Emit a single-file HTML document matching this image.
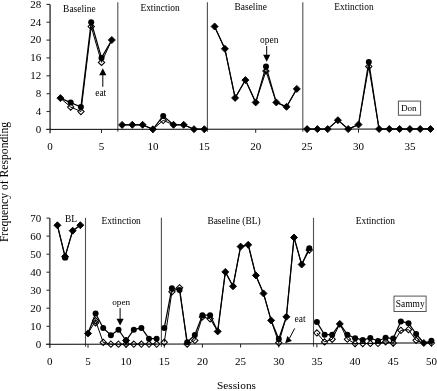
<!DOCTYPE html>
<html><head><meta charset="utf-8"><title>Frequency of Responding</title>
<style>
html,body{margin:0;padding:0;background:#fff;}
body{width:437px;height:391px;overflow:hidden;}
svg{display:block;filter:grayscale(1);font-family:"Liberation Serif",serif;fill:#000;}
</style></head>
<body>
<svg width="437" height="391" viewBox="0 0 437 391">
<rect x="0" y="0" width="437" height="391" fill="#fff"/>
<line x1="117.8" y1="2.3" x2="117.8" y2="131.8" stroke="#505050" stroke-width="1.10"/>
<line x1="207.4" y1="2.3" x2="207.4" y2="131.8" stroke="#505050" stroke-width="1.10"/>
<line x1="302.8" y1="2.3" x2="302.8" y2="131.8" stroke="#505050" stroke-width="1.10"/>
<line x1="85.5" y1="217.8" x2="85.5" y2="346.7" stroke="#505050" stroke-width="1.10"/>
<line x1="161.4" y1="217.8" x2="161.4" y2="346.7" stroke="#505050" stroke-width="1.10"/>
<line x1="313.5" y1="217.8" x2="313.5" y2="346.7" stroke="#505050" stroke-width="1.10"/>
<line x1="50.1" y1="4.4" x2="50.1" y2="133.2" stroke="#5a5a5a" stroke-width="1.70"/>
<line x1="46.3" y1="129.4" x2="432" y2="129.0" stroke="#000" stroke-width="1"/>
<line x1="46.5" y1="129.4" x2="50.1" y2="129.4" stroke="#333" stroke-width="1.10"/>
<line x1="46.5" y1="111.5" x2="50.1" y2="111.5" stroke="#333" stroke-width="1.10"/>
<line x1="46.5" y1="93.7" x2="50.1" y2="93.7" stroke="#333" stroke-width="1.10"/>
<line x1="46.5" y1="75.8" x2="50.1" y2="75.8" stroke="#333" stroke-width="1.10"/>
<line x1="46.5" y1="57.9" x2="50.1" y2="57.9" stroke="#333" stroke-width="1.10"/>
<line x1="46.5" y1="40.1" x2="50.1" y2="40.1" stroke="#333" stroke-width="1.10"/>
<line x1="46.5" y1="22.2" x2="50.1" y2="22.2" stroke="#333" stroke-width="1.10"/>
<line x1="46.5" y1="4.4" x2="50.1" y2="4.4" stroke="#333" stroke-width="1.10"/>
<line x1="101.5" y1="129.3" x2="101.5" y2="132.9" stroke="#222" stroke-width="1.00"/>
<line x1="152.9" y1="129.3" x2="152.9" y2="132.9" stroke="#222" stroke-width="1.00"/>
<line x1="204.3" y1="129.2" x2="204.3" y2="132.8" stroke="#222" stroke-width="1.00"/>
<line x1="255.7" y1="129.2" x2="255.7" y2="132.8" stroke="#222" stroke-width="1.00"/>
<line x1="307.1" y1="129.1" x2="307.1" y2="132.7" stroke="#222" stroke-width="1.00"/>
<line x1="358.5" y1="129.1" x2="358.5" y2="132.7" stroke="#222" stroke-width="1.00"/>
<line x1="409.9" y1="129.0" x2="409.9" y2="132.6" stroke="#222" stroke-width="1.00"/>
<line x1="49.8" y1="218.1" x2="49.8" y2="348.0" stroke="#5a5a5a" stroke-width="1.70"/>
<polyline points="46.10,344.30 240.00,343.95 350.00,343.70 400.00,343.00 433.00,343.00" fill="none" stroke="#000" stroke-width="1"/>
<line x1="46.5" y1="344.3" x2="49.8" y2="344.3" stroke="#333" stroke-width="1.10"/>
<line x1="46.5" y1="326.3" x2="49.8" y2="326.3" stroke="#333" stroke-width="1.10"/>
<line x1="46.5" y1="308.2" x2="49.8" y2="308.2" stroke="#333" stroke-width="1.10"/>
<line x1="46.5" y1="290.2" x2="49.8" y2="290.2" stroke="#333" stroke-width="1.10"/>
<line x1="46.5" y1="272.2" x2="49.8" y2="272.2" stroke="#333" stroke-width="1.10"/>
<line x1="46.5" y1="254.2" x2="49.8" y2="254.2" stroke="#333" stroke-width="1.10"/>
<line x1="46.5" y1="236.1" x2="49.8" y2="236.1" stroke="#333" stroke-width="1.10"/>
<line x1="46.5" y1="218.1" x2="49.8" y2="218.1" stroke="#333" stroke-width="1.10"/>
<line x1="88.0" y1="344.2" x2="88.0" y2="347.8" stroke="#222" stroke-width="1.00"/>
<line x1="126.1" y1="344.2" x2="126.1" y2="347.8" stroke="#222" stroke-width="1.00"/>
<line x1="164.3" y1="344.1" x2="164.3" y2="347.7" stroke="#222" stroke-width="1.00"/>
<line x1="202.4" y1="344.0" x2="202.4" y2="347.6" stroke="#222" stroke-width="1.00"/>
<line x1="240.6" y1="343.9" x2="240.6" y2="347.5" stroke="#222" stroke-width="1.00"/>
<line x1="278.8" y1="343.9" x2="278.8" y2="347.5" stroke="#222" stroke-width="1.00"/>
<line x1="316.9" y1="343.8" x2="316.9" y2="347.4" stroke="#222" stroke-width="1.00"/>
<line x1="355.1" y1="343.6" x2="355.1" y2="347.2" stroke="#222" stroke-width="1.00"/>
<line x1="393.2" y1="343.1" x2="393.2" y2="346.7" stroke="#222" stroke-width="1.00"/>
<line x1="431.4" y1="343.0" x2="431.4" y2="346.6" stroke="#222" stroke-width="1.00"/>
<polyline points="60.38,98.13 70.66,107.05 80.94,111.50 91.22,26.64 101.50,62.35 111.78,40.01" fill="none" stroke="#000" stroke-width="1.00" stroke-linejoin="round"/>
<polyline points="122.06,124.85 132.34,124.84 142.62,124.83 152.90,129.29 163.18,120.34 173.46,124.80 183.74,124.79 194.02,129.24 204.30,129.23" fill="none" stroke="#000" stroke-width="1.00" stroke-linejoin="round"/>
<polyline points="214.58,26.50 224.86,48.82 235.14,97.93 245.42,80.06 255.70,102.38 265.98,71.10 276.26,102.36 286.54,106.81 296.82,88.93" fill="none" stroke="#000" stroke-width="1.00" stroke-linejoin="round"/>
<polyline points="307.10,129.12 317.38,129.11 327.66,129.09 337.94,120.15 348.22,129.07 358.50,124.59 368.78,66.53 379.06,129.04 389.34,129.03 399.62,129.02 409.90,129.00 420.18,128.99 430.46,128.98" fill="none" stroke="#000" stroke-width="1.00" stroke-linejoin="round"/>
<path d="M70.7 103.9L73.8 107.0L70.7 110.2L67.5 107.0Z" fill="none" stroke="#000" stroke-width="1.05"/>
<path d="M80.9 108.4L84.1 111.5L80.9 114.7L77.8 111.5Z" fill="none" stroke="#000" stroke-width="1.05"/>
<path d="M91.2 23.5L94.4 26.6L91.2 29.8L88.1 26.6Z" fill="none" stroke="#000" stroke-width="1.05"/>
<path d="M101.5 59.2L104.7 62.4L101.5 65.5L98.3 62.4Z" fill="none" stroke="#000" stroke-width="1.05"/>
<path d="M163.2 117.2L166.3 120.3L163.2 123.5L160.0 120.3Z" fill="none" stroke="#000" stroke-width="1.05"/>
<path d="M266.0 68.0L269.1 71.1L266.0 74.3L262.8 71.1Z" fill="none" stroke="#000" stroke-width="1.05"/>
<path d="M368.8 63.4L371.9 66.5L368.8 69.7L365.6 66.5Z" fill="none" stroke="#000" stroke-width="1.05"/>
<polyline points="60.38,98.13 70.66,102.58 80.94,107.04 91.22,22.17 101.50,57.89 111.78,40.01" fill="none" stroke="#000" stroke-width="1.25" stroke-linejoin="round"/>
<polyline points="122.06,124.85 132.34,124.84 142.62,124.83 152.90,129.29 163.18,115.88 173.46,124.80 183.74,124.79 194.02,129.24 204.30,129.23" fill="none" stroke="#000" stroke-width="1.25" stroke-linejoin="round"/>
<polyline points="214.58,26.50 224.86,48.82 235.14,97.93 245.42,80.06 255.70,102.38 265.98,66.64 276.26,102.36 286.54,106.81 296.82,88.93" fill="none" stroke="#000" stroke-width="1.25" stroke-linejoin="round"/>
<polyline points="307.10,129.12 317.38,129.11 327.66,129.09 337.94,120.15 348.22,129.07 358.50,124.59 368.78,62.06 379.06,129.04 389.34,129.03 399.62,129.02 409.90,129.00 420.18,128.99 430.46,128.98" fill="none" stroke="#000" stroke-width="1.25" stroke-linejoin="round"/>
<path d="M60.4 94.6L63.9 98.1L60.4 101.6L56.9 98.1Z" fill="#000" stroke="#000" stroke-width="0.9" stroke-linejoin="round"/>
<circle cx="70.7" cy="102.6" r="3.0" fill="#000"/>
<circle cx="80.9" cy="107.0" r="3.0" fill="#000"/>
<circle cx="91.2" cy="22.2" r="3.0" fill="#000"/>
<circle cx="101.5" cy="57.9" r="3.0" fill="#000"/>
<path d="M111.8 36.5L115.3 40.0L111.8 43.5L108.3 40.0Z" fill="#000" stroke="#000" stroke-width="0.9" stroke-linejoin="round"/>
<path d="M122.1 121.4L125.6 124.9L122.1 128.4L118.6 124.9Z" fill="#000" stroke="#000" stroke-width="0.9" stroke-linejoin="round"/>
<path d="M132.3 121.3L135.8 124.8L132.3 128.3L128.8 124.8Z" fill="#000" stroke="#000" stroke-width="0.9" stroke-linejoin="round"/>
<path d="M142.6 121.3L146.1 124.8L142.6 128.3L139.1 124.8Z" fill="#000" stroke="#000" stroke-width="0.9" stroke-linejoin="round"/>
<path d="M152.9 125.8L156.4 129.3L152.9 132.8L149.4 129.3Z" fill="#000" stroke="#000" stroke-width="0.9" stroke-linejoin="round"/>
<circle cx="163.2" cy="115.9" r="3.0" fill="#000"/>
<path d="M173.5 121.3L177.0 124.8L173.5 128.3L170.0 124.8Z" fill="#000" stroke="#000" stroke-width="0.9" stroke-linejoin="round"/>
<path d="M183.7 121.3L187.2 124.8L183.7 128.3L180.2 124.8Z" fill="#000" stroke="#000" stroke-width="0.9" stroke-linejoin="round"/>
<path d="M194.0 125.7L197.5 129.2L194.0 132.7L190.5 129.2Z" fill="#000" stroke="#000" stroke-width="0.9" stroke-linejoin="round"/>
<path d="M204.3 125.7L207.8 129.2L204.3 132.7L200.8 129.2Z" fill="#000" stroke="#000" stroke-width="0.9" stroke-linejoin="round"/>
<path d="M214.6 23.0L218.1 26.5L214.6 30.0L211.1 26.5Z" fill="#000" stroke="#000" stroke-width="0.9" stroke-linejoin="round"/>
<path d="M224.9 45.3L228.4 48.8L224.9 52.3L221.4 48.8Z" fill="#000" stroke="#000" stroke-width="0.9" stroke-linejoin="round"/>
<path d="M235.1 94.4L238.6 97.9L235.1 101.4L231.6 97.9Z" fill="#000" stroke="#000" stroke-width="0.9" stroke-linejoin="round"/>
<path d="M245.4 76.6L248.9 80.1L245.4 83.6L241.9 80.1Z" fill="#000" stroke="#000" stroke-width="0.9" stroke-linejoin="round"/>
<path d="M255.7 98.9L259.2 102.4L255.7 105.9L252.2 102.4Z" fill="#000" stroke="#000" stroke-width="0.9" stroke-linejoin="round"/>
<circle cx="266.0" cy="66.6" r="3.0" fill="#000"/>
<path d="M276.3 98.9L279.8 102.4L276.3 105.9L272.8 102.4Z" fill="#000" stroke="#000" stroke-width="0.9" stroke-linejoin="round"/>
<path d="M286.5 103.3L290.0 106.8L286.5 110.3L283.0 106.8Z" fill="#000" stroke="#000" stroke-width="0.9" stroke-linejoin="round"/>
<path d="M296.8 85.4L300.3 88.9L296.8 92.4L293.3 88.9Z" fill="#000" stroke="#000" stroke-width="0.9" stroke-linejoin="round"/>
<path d="M307.1 125.6L310.6 129.1L307.1 132.6L303.6 129.1Z" fill="#000" stroke="#000" stroke-width="0.9" stroke-linejoin="round"/>
<path d="M317.4 125.6L320.9 129.1L317.4 132.6L313.9 129.1Z" fill="#000" stroke="#000" stroke-width="0.9" stroke-linejoin="round"/>
<path d="M327.7 125.6L331.2 129.1L327.7 132.6L324.2 129.1Z" fill="#000" stroke="#000" stroke-width="0.9" stroke-linejoin="round"/>
<path d="M337.9 116.7L341.4 120.2L337.9 123.7L334.4 120.2Z" fill="#000" stroke="#000" stroke-width="0.9" stroke-linejoin="round"/>
<path d="M348.2 125.6L351.7 129.1L348.2 132.6L344.7 129.1Z" fill="#000" stroke="#000" stroke-width="0.9" stroke-linejoin="round"/>
<path d="M358.5 121.1L362.0 124.6L358.5 128.1L355.0 124.6Z" fill="#000" stroke="#000" stroke-width="0.9" stroke-linejoin="round"/>
<circle cx="368.8" cy="62.1" r="3.0" fill="#000"/>
<path d="M379.1 125.5L382.6 129.0L379.1 132.5L375.6 129.0Z" fill="#000" stroke="#000" stroke-width="0.9" stroke-linejoin="round"/>
<path d="M389.3 125.5L392.8 129.0L389.3 132.5L385.8 129.0Z" fill="#000" stroke="#000" stroke-width="0.9" stroke-linejoin="round"/>
<path d="M399.6 125.5L403.1 129.0L399.6 132.5L396.1 129.0Z" fill="#000" stroke="#000" stroke-width="0.9" stroke-linejoin="round"/>
<path d="M409.9 125.5L413.4 129.0L409.9 132.5L406.4 129.0Z" fill="#000" stroke="#000" stroke-width="0.9" stroke-linejoin="round"/>
<path d="M420.2 125.5L423.7 129.0L420.2 132.5L416.7 129.0Z" fill="#000" stroke="#000" stroke-width="0.9" stroke-linejoin="round"/>
<path d="M430.5 125.5L434.0 129.0L430.5 132.5L427.0 129.0Z" fill="#000" stroke="#000" stroke-width="0.9" stroke-linejoin="round"/>
<polyline points="57.43,225.28 65.06,256.64 72.70,230.66 80.33,225.24" fill="none" stroke="#000" stroke-width="1.00" stroke-linejoin="round"/>
<polyline points="87.96,333.41 95.59,320.77 103.22,342.39 110.86,344.18 118.49,344.17 126.12,344.16 133.75,344.14 141.38,344.13 149.02,344.11 156.65,344.10" fill="none" stroke="#000" stroke-width="1.00" stroke-linejoin="round"/>
<polyline points="164.28,342.28 171.91,291.79 179.54,287.81 187.18,344.05 194.81,340.43 202.44,316.97 210.07,318.76 217.70,331.37 225.34,271.86 232.97,286.27 240.60,246.59 248.23,244.77 255.86,275.40 263.50,293.41 271.13,320.44 278.76,342.78 286.39,316.80 294.02,237.45 301.66,264.48 309.29,250.04" fill="none" stroke="#000" stroke-width="1.00" stroke-linejoin="round"/>
<polyline points="316.92,332.96 324.55,341.95 332.18,339.23 339.82,323.89 347.45,339.20 355.08,343.63 362.71,343.52 370.34,343.42 377.98,343.31 385.61,341.76 393.24,343.09 400.87,330.38 408.50,329.66 416.14,340.30 423.77,343.00 431.40,343.00" fill="none" stroke="#000" stroke-width="1.00" stroke-linejoin="round"/>
<path d="M95.6 319.8L98.7 322.9L95.6 326.1L92.4 322.9Z" fill="none" stroke="#000" stroke-width="1.05"/>
<path d="M95.6 317.6L98.7 320.8L95.6 323.9L92.4 320.8Z" fill="none" stroke="#000" stroke-width="1.05"/>
<path d="M103.2 339.2L106.4 342.4L103.2 345.5L100.1 342.4Z" fill="none" stroke="#000" stroke-width="1.05"/>
<path d="M110.9 341.0L114.0 344.2L110.9 347.3L107.7 344.2Z" fill="none" stroke="#000" stroke-width="1.05"/>
<path d="M118.5 341.0L121.6 344.2L118.5 347.3L115.3 344.2Z" fill="none" stroke="#000" stroke-width="1.05"/>
<path d="M126.1 341.0L129.3 344.2L126.1 347.3L123.0 344.2Z" fill="none" stroke="#000" stroke-width="1.05"/>
<path d="M133.8 341.0L136.9 344.1L133.8 347.3L130.6 344.1Z" fill="none" stroke="#000" stroke-width="1.05"/>
<path d="M141.4 341.0L144.5 344.1L141.4 347.3L138.2 344.1Z" fill="none" stroke="#000" stroke-width="1.05"/>
<path d="M149.0 341.0L152.2 344.1L149.0 347.3L145.9 344.1Z" fill="none" stroke="#000" stroke-width="1.05"/>
<path d="M156.6 341.0L159.8 344.1L156.6 347.3L153.5 344.1Z" fill="none" stroke="#000" stroke-width="1.05"/>
<path d="M164.3 339.1L167.4 342.3L164.3 345.4L161.1 342.3Z" fill="none" stroke="#000" stroke-width="1.05"/>
<path d="M171.9 288.6L175.1 291.8L171.9 294.9L168.8 291.8Z" fill="none" stroke="#000" stroke-width="1.05"/>
<path d="M179.5 284.7L182.7 287.8L179.5 291.0L176.4 287.8Z" fill="none" stroke="#000" stroke-width="1.05"/>
<path d="M187.2 340.9L190.3 344.0L187.2 347.2L184.0 344.0Z" fill="none" stroke="#000" stroke-width="1.05"/>
<path d="M194.8 337.3L198.0 340.4L194.8 343.6L191.7 340.4Z" fill="none" stroke="#000" stroke-width="1.05"/>
<path d="M202.4 313.8L205.6 317.0L202.4 320.1L199.3 317.0Z" fill="none" stroke="#000" stroke-width="1.05"/>
<path d="M210.1 315.6L213.2 318.8L210.1 321.9L206.9 318.8Z" fill="none" stroke="#000" stroke-width="1.05"/>
<path d="M278.8 339.6L281.9 342.8L278.8 345.9L275.6 342.8Z" fill="none" stroke="#000" stroke-width="1.05"/>
<path d="M309.3 246.9L312.4 250.0L309.3 253.2L306.1 250.0Z" fill="none" stroke="#000" stroke-width="1.05"/>
<path d="M316.9 329.8L320.1 333.0L316.9 336.1L313.8 333.0Z" fill="none" stroke="#000" stroke-width="1.05"/>
<path d="M324.6 338.8L327.7 342.0L324.6 345.1L321.4 342.0Z" fill="none" stroke="#000" stroke-width="1.05"/>
<path d="M332.2 336.1L335.3 339.2L332.2 342.4L329.0 339.2Z" fill="none" stroke="#000" stroke-width="1.05"/>
<path d="M347.4 336.0L350.6 339.2L347.4 342.3L344.3 339.2Z" fill="none" stroke="#000" stroke-width="1.05"/>
<path d="M355.1 340.5L358.2 343.6L355.1 346.8L351.9 343.6Z" fill="none" stroke="#000" stroke-width="1.05"/>
<path d="M362.7 340.4L365.9 343.5L362.7 346.7L359.6 343.5Z" fill="none" stroke="#000" stroke-width="1.05"/>
<path d="M370.3 340.3L373.5 343.4L370.3 346.6L367.2 343.4Z" fill="none" stroke="#000" stroke-width="1.05"/>
<path d="M378.0 340.2L381.1 343.3L378.0 346.5L374.8 343.3Z" fill="none" stroke="#000" stroke-width="1.05"/>
<path d="M385.6 338.6L388.8 341.8L385.6 344.9L382.5 341.8Z" fill="none" stroke="#000" stroke-width="1.05"/>
<path d="M393.2 339.9L396.4 343.1L393.2 346.2L390.1 343.1Z" fill="none" stroke="#000" stroke-width="1.05"/>
<path d="M400.9 327.2L404.0 330.4L400.9 333.5L397.7 330.4Z" fill="none" stroke="#000" stroke-width="1.05"/>
<path d="M408.5 326.5L411.7 329.7L408.5 332.8L405.4 329.7Z" fill="none" stroke="#000" stroke-width="1.05"/>
<path d="M416.1 337.1L419.3 340.3L416.1 343.4L413.0 340.3Z" fill="none" stroke="#000" stroke-width="1.05"/>
<path d="M431.4 339.9L434.5 343.0L431.4 346.1L428.2 343.0Z" fill="none" stroke="#000" stroke-width="1.05"/>
<polyline points="57.43,225.28 65.06,256.64 72.70,230.66 80.33,225.24" fill="none" stroke="#000" stroke-width="1.25" stroke-linejoin="round"/>
<polyline points="87.96,333.41 95.59,313.56 103.22,327.97 110.86,335.17 118.49,329.75 126.12,340.55 133.75,329.72 141.38,327.90 149.02,338.71 156.65,338.69" fill="none" stroke="#000" stroke-width="1.25" stroke-linejoin="round"/>
<polyline points="164.28,327.86 171.91,288.18 179.54,289.97 187.18,342.24 194.81,335.02 202.44,315.17 210.07,315.16 217.70,331.37 225.34,271.86 232.97,286.27 240.60,246.59 248.23,244.77 255.86,275.40 263.50,293.41 271.13,320.44 278.76,338.99 286.39,316.80 294.02,237.45 301.66,264.48 309.29,248.23" fill="none" stroke="#000" stroke-width="1.25" stroke-linejoin="round"/>
<polyline points="316.92,322.14 324.55,334.74 332.18,334.73 339.82,323.89 347.45,334.69 355.08,338.22 362.71,339.92 370.34,338.01 377.98,340.96 385.61,337.79 393.24,338.41 400.87,321.36 408.50,323.17 416.14,333.99 423.77,343.00 431.40,340.84" fill="none" stroke="#000" stroke-width="1.25" stroke-linejoin="round"/>
<path d="M57.4 221.8L60.9 225.3L57.4 228.8L53.9 225.3Z" fill="#000" stroke="#000" stroke-width="0.9" stroke-linejoin="round"/>
<path d="M65.1 253.1L68.6 256.6L65.1 260.1L61.6 256.6Z" fill="#000" stroke="#000" stroke-width="0.9" stroke-linejoin="round"/>
<path d="M72.7 227.2L76.2 230.7L72.7 234.2L69.2 230.7Z" fill="#000" stroke="#000" stroke-width="0.9" stroke-linejoin="round"/>
<path d="M80.3 221.7L83.8 225.2L80.3 228.7L76.8 225.2Z" fill="#000" stroke="#000" stroke-width="0.9" stroke-linejoin="round"/>
<path d="M88.0 329.9L91.5 333.4L88.0 336.9L84.5 333.4Z" fill="#000" stroke="#000" stroke-width="0.9" stroke-linejoin="round"/>
<circle cx="95.6" cy="313.6" r="3.0" fill="#000"/>
<circle cx="103.2" cy="328.0" r="3.0" fill="#000"/>
<circle cx="110.9" cy="335.2" r="3.0" fill="#000"/>
<circle cx="118.5" cy="329.7" r="3.0" fill="#000"/>
<circle cx="126.1" cy="340.5" r="3.0" fill="#000"/>
<circle cx="133.8" cy="329.7" r="3.0" fill="#000"/>
<circle cx="141.4" cy="327.9" r="3.0" fill="#000"/>
<circle cx="149.0" cy="338.7" r="3.0" fill="#000"/>
<circle cx="156.6" cy="338.7" r="3.0" fill="#000"/>
<circle cx="164.3" cy="327.9" r="3.0" fill="#000"/>
<circle cx="171.9" cy="288.2" r="3.0" fill="#000"/>
<circle cx="179.5" cy="290.0" r="3.0" fill="#000"/>
<circle cx="187.2" cy="342.2" r="3.0" fill="#000"/>
<circle cx="194.8" cy="335.0" r="3.0" fill="#000"/>
<circle cx="202.4" cy="315.2" r="3.0" fill="#000"/>
<circle cx="210.1" cy="315.2" r="3.0" fill="#000"/>
<path d="M217.7 327.9L221.2 331.4L217.7 334.9L214.2 331.4Z" fill="#000" stroke="#000" stroke-width="0.9" stroke-linejoin="round"/>
<path d="M225.3 268.4L228.8 271.9L225.3 275.4L221.8 271.9Z" fill="#000" stroke="#000" stroke-width="0.9" stroke-linejoin="round"/>
<path d="M233.0 282.8L236.5 286.3L233.0 289.8L229.5 286.3Z" fill="#000" stroke="#000" stroke-width="0.9" stroke-linejoin="round"/>
<path d="M240.6 243.1L244.1 246.6L240.6 250.1L237.1 246.6Z" fill="#000" stroke="#000" stroke-width="0.9" stroke-linejoin="round"/>
<path d="M248.2 241.3L251.7 244.8L248.2 248.3L244.7 244.8Z" fill="#000" stroke="#000" stroke-width="0.9" stroke-linejoin="round"/>
<path d="M255.9 271.9L259.4 275.4L255.9 278.9L252.4 275.4Z" fill="#000" stroke="#000" stroke-width="0.9" stroke-linejoin="round"/>
<path d="M263.5 289.9L267.0 293.4L263.5 296.9L260.0 293.4Z" fill="#000" stroke="#000" stroke-width="0.9" stroke-linejoin="round"/>
<path d="M271.1 316.9L274.6 320.4L271.1 323.9L267.6 320.4Z" fill="#000" stroke="#000" stroke-width="0.9" stroke-linejoin="round"/>
<circle cx="278.8" cy="339.0" r="3.0" fill="#000"/>
<path d="M286.4 313.3L289.9 316.8L286.4 320.3L282.9 316.8Z" fill="#000" stroke="#000" stroke-width="0.9" stroke-linejoin="round"/>
<path d="M294.0 234.0L297.5 237.5L294.0 241.0L290.5 237.5Z" fill="#000" stroke="#000" stroke-width="0.9" stroke-linejoin="round"/>
<path d="M301.7 261.0L305.2 264.5L301.7 268.0L298.2 264.5Z" fill="#000" stroke="#000" stroke-width="0.9" stroke-linejoin="round"/>
<circle cx="309.3" cy="248.2" r="3.0" fill="#000"/>
<circle cx="316.9" cy="322.1" r="3.0" fill="#000"/>
<circle cx="324.6" cy="334.7" r="3.0" fill="#000"/>
<circle cx="332.2" cy="334.7" r="3.0" fill="#000"/>
<path d="M339.8 320.4L343.3 323.9L339.8 327.4L336.3 323.9Z" fill="#000" stroke="#000" stroke-width="0.9" stroke-linejoin="round"/>
<circle cx="347.4" cy="334.7" r="3.0" fill="#000"/>
<circle cx="355.1" cy="338.2" r="3.0" fill="#000"/>
<circle cx="362.7" cy="339.9" r="3.0" fill="#000"/>
<circle cx="370.3" cy="338.0" r="3.0" fill="#000"/>
<circle cx="378.0" cy="341.0" r="3.0" fill="#000"/>
<circle cx="385.6" cy="337.8" r="3.0" fill="#000"/>
<circle cx="393.2" cy="338.4" r="3.0" fill="#000"/>
<circle cx="400.9" cy="321.4" r="3.0" fill="#000"/>
<circle cx="408.5" cy="323.2" r="3.0" fill="#000"/>
<circle cx="416.1" cy="334.0" r="3.0" fill="#000"/>
<path d="M423.8 339.5L427.3 343.0L423.8 346.5L420.3 343.0Z" fill="#000" stroke="#000" stroke-width="0.9" stroke-linejoin="round"/>
<circle cx="431.4" cy="340.8" r="3.0" fill="#000"/>
<path d="M126.1 337.0L129.6 340.5L126.1 344.0L122.6 340.5Z" fill="#000" stroke="#000" stroke-width="0.9" stroke-linejoin="round"/>
<circle cx="65.1" cy="257.4" r="3.2" fill="#000"/>
<line x1="102.8" y1="74.2" x2="102.8" y2="86.8" stroke="#000" stroke-width="1"/><path d="M99.2 75.2L106.4 75.2L102.8 68.2Z" fill="#000"/>
<line x1="266.7" y1="46.0" x2="266.7" y2="55.8" stroke="#000" stroke-width="1"/><path d="M263.1 54.8L270.3 54.8L266.7 61.7Z" fill="#000"/>
<line x1="120.1" y1="308.1" x2="120.1" y2="319.7" stroke="#000" stroke-width="1"/><path d="M116.5 318.7L123.7 318.7L120.1 325.6Z" fill="#000"/>
<line x1="294.7" y1="328.4" x2="289.5" y2="338.2" stroke="#000" stroke-width="1"/>
<path d="M285.1 343.2L287.4 336.0L291.9 341.1Z" fill="#000"/>
<rect x="398.4" y="101.1" width="22.2" height="14.1" fill="#fff" stroke="#555" stroke-width="1"/>
<rect x="394" y="296.1" width="32.1" height="15.4" fill="#fff" stroke="#555" stroke-width="1"/>
<text x="41.3" y="132.7" font-size="11.00" text-anchor="end" >0</text>
<text x="41.3" y="114.8" font-size="11.00" text-anchor="end" >4</text>
<text x="41.3" y="97.0" font-size="11.00" text-anchor="end" >8</text>
<text x="41.3" y="79.1" font-size="11.00" text-anchor="end" >12</text>
<text x="41.3" y="61.2" font-size="11.00" text-anchor="end" >16</text>
<text x="41.3" y="43.4" font-size="11.00" text-anchor="end" >20</text>
<text x="41.3" y="25.5" font-size="11.00" text-anchor="end" >24</text>
<text x="41.3" y="7.7" font-size="11.00" text-anchor="end" >28</text>
<text x="50.1" y="149.7" font-size="11.00" text-anchor="middle" >0</text>
<text x="101.5" y="149.7" font-size="11.00" text-anchor="middle" >5</text>
<text x="152.9" y="149.7" font-size="11.00" text-anchor="middle" >10</text>
<text x="204.3" y="149.7" font-size="11.00" text-anchor="middle" >15</text>
<text x="255.7" y="149.7" font-size="11.00" text-anchor="middle" >20</text>
<text x="307.1" y="149.7" font-size="11.00" text-anchor="middle" >25</text>
<text x="358.5" y="149.7" font-size="11.00" text-anchor="middle" >30</text>
<text x="409.9" y="149.7" font-size="11.00" text-anchor="middle" >35</text>
<text x="41.3" y="348.0" font-size="11.00" text-anchor="end" >0</text>
<text x="41.3" y="330.0" font-size="11.00" text-anchor="end" >10</text>
<text x="41.3" y="311.9" font-size="11.00" text-anchor="end" >20</text>
<text x="41.3" y="293.9" font-size="11.00" text-anchor="end" >30</text>
<text x="41.3" y="275.9" font-size="11.00" text-anchor="end" >40</text>
<text x="41.3" y="257.9" font-size="11.00" text-anchor="end" >50</text>
<text x="41.3" y="239.8" font-size="11.00" text-anchor="end" >60</text>
<text x="41.3" y="221.8" font-size="11.00" text-anchor="end" >70</text>
<text x="49.8" y="365.0" font-size="11.00" text-anchor="middle" >0</text>
<text x="88.0" y="365.0" font-size="11.00" text-anchor="middle" >5</text>
<text x="126.1" y="365.0" font-size="11.00" text-anchor="middle" >10</text>
<text x="164.3" y="365.0" font-size="11.00" text-anchor="middle" >15</text>
<text x="202.4" y="365.0" font-size="11.00" text-anchor="middle" >20</text>
<text x="240.6" y="365.0" font-size="11.00" text-anchor="middle" >25</text>
<text x="278.8" y="365.0" font-size="11.00" text-anchor="middle" >30</text>
<text x="316.9" y="365.0" font-size="11.00" text-anchor="middle" >35</text>
<text x="355.1" y="365.0" font-size="11.00" text-anchor="middle" >40</text>
<text x="393.2" y="365.0" font-size="11.00" text-anchor="middle" >45</text>
<text x="431.4" y="365.0" font-size="11.00" text-anchor="middle" >50</text>
<text x="63.1" y="11.6" font-size="9.45" text-anchor="start" >Baseline</text>
<text x="140.4" y="10.5" font-size="9.45" text-anchor="start" >Extinction</text>
<text x="234.5" y="9.9" font-size="9.45" text-anchor="start" >Baseline</text>
<text x="334.3" y="9.8" font-size="9.45" text-anchor="start" >Extinction</text>
<text x="95.2" y="96.3" font-size="9.45" text-anchor="start" >eat</text>
<text x="260.0" y="42.8" font-size="9.45" text-anchor="start" >open</text>
<text x="400.9" y="111.0" font-size="9.20" text-anchor="start" >Don</text>
<text x="65.0" y="221.8" font-size="9.45" text-anchor="start" >BL</text>
<text x="101.5" y="223.9" font-size="9.45" text-anchor="start" >Extinction</text>
<text x="207.4" y="223.9" font-size="9.45" text-anchor="start" >Baseline (BL)</text>
<text x="355.7" y="223.8" font-size="9.45" text-anchor="start" >Extinction</text>
<text x="112.2" y="305.1" font-size="9.20" text-anchor="start" >open</text>
<text x="294.5" y="321.7" font-size="9.45" text-anchor="start" >eat</text>
<text x="395.8" y="306.8" font-size="9.45" text-anchor="start" >Sammy</text>
<text x="217.0" y="389.0" font-size="11.30" text-anchor="start" >Sessions</text>
<text transform="translate(8.2,242.1) rotate(-90)" font-size="11.65">Frequency of Responding</text>
</svg>
</body></html>
